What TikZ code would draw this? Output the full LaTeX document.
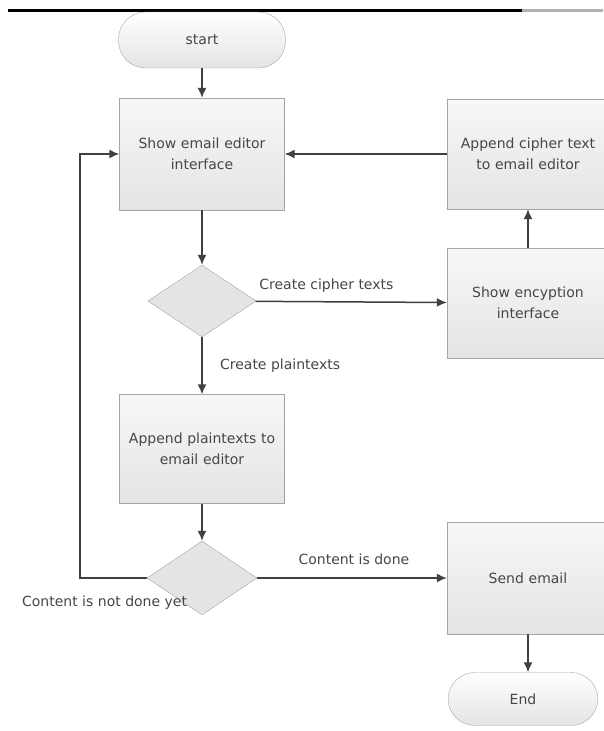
\documentclass[tikz,border=0pt]{standalone}
\usepackage{fontspec}
\setmainfont{DejaVu Sans}
\usetikzlibrary{shapes.geometric,arrows.meta}
\definecolor{boxline}{RGB}{165,165,165}
\definecolor{boxfill}{RGB}{228,228,228}
\definecolor{arrowgray}{RGB}{64,64,64}
\definecolor{textgray}{RGB}{70,70,70}

\begin{document}
\begin{tikzpicture}[x=1pt, y=1pt, node distance=114pt, font=\fontsize{14}{21}\selectfont, text=textgray]
    \tikzstyle{process} = [rectangle, draw=boxline, top color=white!97!black, bottom color=boxfill, text width=150pt, align=center, minimum width=165pt, minimum height=112pt]
    \tikzstyle{terminal} = [rectangle, rounded corners=27pt, draw=boxline, top color=white, bottom color=boxfill, minimum width=167pt, minimum height=56pt]
    \tikzstyle{decision} = [diamond, draw=boxline, fill=boxfill, minimum width=108pt, minimum height=72pt, inner sep=0pt]
    \tikzstyle{arrow} = [line width=1.5pt, draw=arrowgray, ->, >={Latex[length=10pt,width=9pt]}]

    \useasboundingbox (0,0) rectangle (603,-731);
    \draw[line width=3pt, black] (8,-10) -- (522,-10);
    \draw[line width=3pt, gray!60] (522,-10) -- (603,-10);

    \node[terminal] (start) at (202,-40) {start};
    \node[process, below of=start] (editor) {Show email editor\\interface};
    \node[decision, below of=editor, node distance=147pt] (choice) {};
    \node[process, below of=choice, node distance=148pt, minimum height=109pt] (plain) {Append plaintexts to\\email editor};
    \node[decision, below of=plain, node distance=129pt, minimum width=110pt, minimum height=74pt] (done) {};
    \node[process, right of=editor, node distance=326pt, minimum width=162pt, minimum height=110pt] (cipher) {Append cipher text\\to email editor};
    \node[process, below of=cipher, node distance=149pt, minimum width=162pt, minimum height=110pt] (encrypt) {Show encyption\\interface};
    \node[process, right of=done, node distance=326pt, minimum width=162pt] (send) {Send email};
    \node[terminal, below of=send, node distance=121pt, xshift=-5pt, minimum width=150pt, minimum height=53pt] (end) {End};

    \draw[arrow] (start) -- (editor);
    \draw[arrow] (editor) -- (choice);
    \draw[arrow] (choice) -- node[above, pos=0.37, yshift=5pt] {Create cipher texts} (encrypt);
    \draw[arrow] (choice) -- node[right, xshift=14pt] {Create plaintexts} (plain);
    \draw[arrow] (encrypt) -- (cipher);
    \draw[arrow] (cipher) -- (editor);
    \draw[arrow] (plain) -- (done);
    \draw[arrow] (done) -- node[above, pos=0.51, yshift=9pt] {Content is done} (send);
    \draw[arrow] (done.west) -- node[below, pos=0.63, yshift=-14pt] {Content is not done yet} ++(-67,0) |- (editor.west);
    \draw[arrow] (send) -- (send |- end.north);
\end{tikzpicture}
\end{document}
